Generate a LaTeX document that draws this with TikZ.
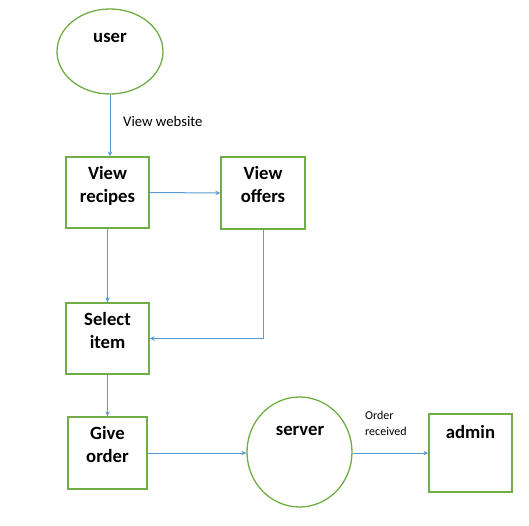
\documentclass[tikz,border=0pt]{standalone}
\usepackage{fontspec}
\setmainfont{Carlito}
\usetikzlibrary{arrows.meta}
\definecolor{shapegreen}{HTML}{70AD47}
\definecolor{flowblue}{HTML}{5B9BD5}
\tikzset{
  x=1pt, y=-1pt,
  shapeline/.style={draw=shapegreen, line width=1.3pt, inner sep=0pt},
  boxnode/.style={shapeline, rectangle},
  roundnode/.style={shapeline, ellipse},
  title/.style={font=\fontsize{18.7}{23}\selectfont\bfseries, align=center, inner sep=0pt},
  note/.style={font=\fontsize{14.7}{18}\selectfont, inner sep=0pt},
  smallnote/.style={font=\fontsize{12}{16}\selectfont, align=left, inner sep=0pt},
  flow/.style={draw=flowblue, line width=1pt, -{Stealth[length=5pt,width=4.5pt]}},
}
\usetikzlibrary{shapes.geometric}
\begin{document}
\begin{tikzpicture}
  \useasboundingbox (0,0) rectangle (529,526);

  % shapes
  \node[roundnode, minimum width=106pt, minimum height=85pt] (user) at (110,51.5) {};
  \node[boxnode, minimum width=83pt, minimum height=71pt] (vr) at (107.5,192.5) {};
  \node[boxnode, minimum width=84pt, minimum height=72pt] (vo) at (263,193) {};
  \node[boxnode, minimum width=83pt, minimum height=71pt] (si) at (107.5,338.5) {};
  \node[boxnode, minimum width=79pt, minimum height=72pt] (go) at (107.5,453) {};
  \node[roundnode, minimum width=105pt, minimum height=110pt] (srv) at (299.5,452) {};
  \node[boxnode, minimum width=83pt, minimum height=78pt] (adm) at (470.5,453) {};

  % titles
  \node[title] (tuser) at (110,38) {user};
  \node[title] (tvr) at (107.5,185.5) {View\\recipes};
  \node[title] (tvo) at (263,185) {View\\offers};
  \node[title] (tsi) at (107.5,330.5) {Select\\item};
  \node[title] (tgo) at (107.5,444.5) {Give\\order};
  \node[title] (tsrv) at (300,431) {server};
  \node[title] (tadm) at (470.5,432) {admin};

  % connector labels
  \node[note, anchor=west] (lweb) at (123,121) {View website};
  \node[smallnote, anchor=west] (lord) at (365,423) {Order\\received};

  % connectors
  \draw[flow] (user.south) -- (user.south |- vr.north);
  \draw[flow] (vr.east) -- (vo.west);
  \draw[flow] (vr.south) -- (si.north);
  \draw[flow] (vo.south) -- (vo.south |- si.east) -- (si.east);
  \draw[flow] (si.south) -- (go.north);
  \draw[flow] (go.east) -- (go.east -| srv.west);
  \draw[flow] (srv.east |- adm.west) -- (adm.west);
\end{tikzpicture}
\end{document}
